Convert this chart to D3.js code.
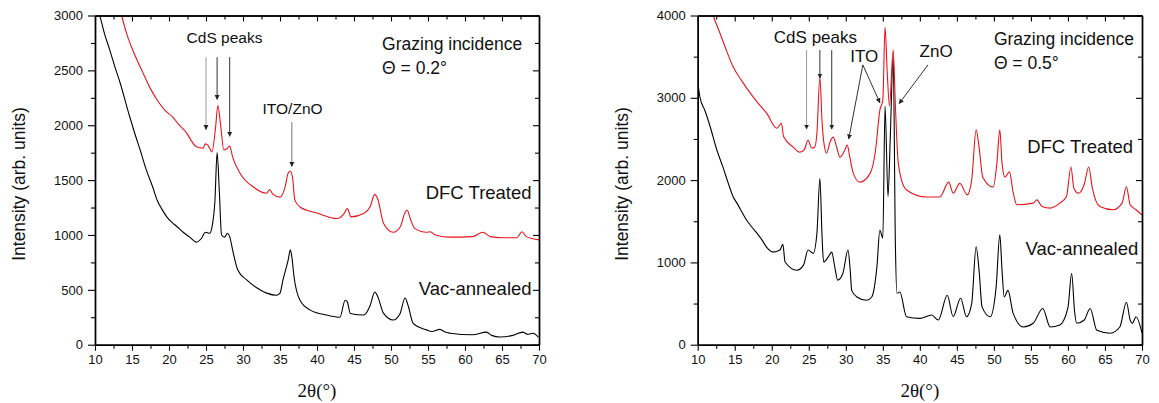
<!DOCTYPE html>
<html>
<head>
<meta charset="utf-8">
<script src="https://cdn.jsdelivr.net/npm/d3@7"></script>
<style>
  body { margin: 0; background: #fff; }
  text { fill: #111; }
</style>
</head>
<body>
<svg id="chart" width="1159" height="403"></svg>
<script>
// 2-theta ticks shared by both panels
var thetaTicks = [10, 15, 20, 25, 30, 35, 40, 45, 50, 55, 60, 65, 70];

// theta = 0.2 deg panel
var lowTicks = [0, 500, 1000, 1500, 2000, 2500, 3000];
var lowDfc = [[12.6,3300],[13.6,3000],[14.3,2830],[15.1,2685],[16.5,2475],[17.4,2345],[18.4,2230],[19.4,2140],[20.5,2075],[21.4,2000],[22.4,1928],[23.0,1860],[23.7,1803],[24.6,1790],[24.9,1830],[25.3,1815],[25.8,1757],[26.3,1985],[26.6,2180],[27.0,1985],[27.4,1775],[27.9,1790],[28.2,1810],[28.6,1710],[29.6,1563],[31.4,1437],[33.2,1380],[33.6,1415],[34.0,1375],[35.0,1345],[35.7,1440],[36.1,1563],[36.4,1580],[36.7,1520],[37.0,1320],[37.7,1255],[40.0,1200],[42.7,1150],[43.6,1190],[44.1,1240],[44.6,1165],[46.3,1195],[47.2,1260],[47.8,1370],[48.2,1330],[49.0,1105],[50.3,1025],[51.3,1080],[51.8,1190],[52.2,1225],[52.6,1150],[53.2,1060],[54.8,1025],[55.3,1030],[56.0,1000],[58.0,980],[61.0,985],[62.4,1025],[63.4,985],[65.0,975],[67.0,975],[67.7,1030],[68.3,985],[70,955]];
var lowVac = [[10.4,3050],[10.7,2985],[11.3,2830],[12.0,2685],[12.7,2530],[13.4,2385],[14.7,2075],[15.4,1920],[16.1,1775],[16.9,1600],[17.8,1437],[18.4,1317],[19.0,1240],[19.7,1165],[20.4,1115],[21.1,1075],[22.0,1020],[22.8,980],[23.7,935],[24.4,970],[24.9,1025],[25.5,1015],[25.9,1105],[26.2,1300],[26.5,1750],[26.8,1400],[27.1,1000],[27.5,980],[27.9,1015],[28.2,985],[28.6,862],[29.3,680],[30.5,590],[32.3,500],[33.2,470],[34.5,450],[35.0,470],[35.4,590],[36.1,770],[36.4,865],[36.6,800],[36.9,617],[37.7,405],[39.1,315],[41.3,270],[43.1,250],[43.8,405],[44.1,390],[44.5,285],[46.3,270],[47.2,360],[47.8,480],[48.2,440],[49.0,285],[50.3,225],[51.2,280],[51.9,425],[52.3,360],[53.0,195],[54.8,135],[55.5,120],[56.6,140],[57.3,115],[58.0,105],[61.0,90],[62.9,115],[63.6,85],[64.7,70],[66.5,85],[67.8,115],[68.5,95],[69.2,105],[69.9,70]];

// theta = 0.5 deg panel
var highTicks = [0, 1000, 2000, 3000, 4000];
var highDfc = [[11.5,4200],[12.1,4000],[13.0,3787],[13.9,3570],[14.8,3374],[16.0,3200],[17.1,3057],[18.2,2930],[19.3,2813],[20.7,2630],[21.3,2690],[21.6,2530],[22.9,2400],[23.8,2340],[24.4,2370],[24.9,2485],[25.4,2390],[25.8,2400],[26.1,2570],[26.5,3250],[26.8,2700],[27.0,2485],[27.4,2327],[27.9,2470],[28.3,2522],[28.8,2390],[29.2,2279],[29.8,2350],[30.2,2425],[30.5,2300],[31.0,2085],[31.9,1975],[33.3,2085],[34.0,2350],[34.6,2850],[35.0,2970],[35.3,3860],[35.6,3300],[35.9,2900],[36.4,3580],[36.7,2900],[37.0,2300],[37.3,2085],[38.2,1880],[40.9,1795],[42.7,1795],[43.9,1975],[44.5,1840],[45.4,1960],[46.4,1820],[47.0,2000],[47.6,2610],[48.0,2400],[48.5,2035],[49.9,1915],[50.4,2200],[50.8,2610],[51.1,2200],[51.5,2035],[52.1,2100],[52.6,1850],[53.1,1700],[55.3,1720],[55.8,1760],[56.5,1680],[57.6,1660],[58.9,1720],[59.8,1800],[60.4,2160],[60.8,1900],[61.4,1840],[62.2,1950],[62.8,2160],[63.3,1900],[64.3,1680],[66.1,1640],[67.3,1720],[67.9,1920],[68.4,1700],[69.2,1640],[70,1575]];
var highVac = [[10,3190],[10.3,3010],[11.0,2840],[11.7,2645],[12.5,2390],[13.4,2160],[14.1,1970],[14.8,1795],[15.3,1720],[16.6,1515],[17.3,1430],[18.0,1355],[18.7,1270],[19.3,1185],[20.2,1125],[21.1,1150],[21.5,1220],[21.8,1005],[23.4,905],[24.3,970],[24.9,1150],[25.6,1110],[26.1,1355],[26.5,2020],[26.8,1300],[27.0,1005],[27.6,1060],[28.1,1125],[28.5,950],[28.9,785],[29.6,865],[30.3,1150],[30.6,900],[30.8,660],[31.5,580],[32.8,540],[33.5,580],[34.2,945],[34.6,1390],[35.0,1295],[35.3,2900],[35.7,1800],[36.0,2500],[36.4,3500],[36.7,1200],[36.9,625],[37.3,640],[38.2,340],[40.0,320],[41.6,360],[42.5,300],[43.7,600],[44.5,340],[45.5,565],[46.3,340],[47.0,500],[47.6,1190],[48.0,900],[48.4,460],[49.5,340],[50.3,700],[50.8,1335],[51.1,900],[51.4,580],[51.9,660],[52.6,380],[54.0,215],[55.3,260],[56.6,440],[57.6,215],[58.9,240],[60.0,450],[60.5,865],[60.9,400],[61.2,260],[62.2,300],[63.0,440],[63.9,175],[65.7,140],[67.0,215],[67.9,515],[68.4,300],[68.7,260],[69.2,340],[70,140]];

var sans = "Arial, 'Liberation Sans', sans-serif";
var svg = d3.select("#chart");
var defs = svg.append("defs");

defs.append("marker")
	.attr("id", "head")
	.attr("viewBox", "0 0 10 10")
	.attr("refX", 9).attr("refY", 5)
	.attr("markerWidth", 5).attr("markerHeight", 6)
	.attr("orient", "auto-start-reverse")
	.append("path")
	.attr("d", "M0,0 L10,5 L0,10 z")
	.attr("fill", "#222");

function drawPanel(p){
	var g = svg.append("g");
	var x = d3.scaleLinear().domain([10, 70]).range([p.left, p.right]);
	var y = d3.scaleLinear().domain([0, p.yMax]).range([p.bottom, p.top]);

	var clipId = "clip" + p.id;
	defs.append("clipPath").attr("id", clipId)
		.append("rect")
		.attr("x", p.left).attr("y", p.top)
		.attr("width", p.right - p.left).attr("height", p.bottom - p.top);

	var line = d3.line()
		.curve(d3.curveMonotoneX)
		.x(function(d){ return x(d[0]); })
		.y(function(d){ return y(d[1]); });

	var curves = g.append("g").attr("clip-path", "url(#" + clipId + ")");
	curves.append("path").datum(p.vac)
		.attr("d", line).attr("fill", "none")
		.attr("stroke", "#000").attr("stroke-width", 1.1);
	curves.append("path").datum(p.dfc)
		.attr("d", line).attr("fill", "none")
		.attr("stroke", "#e8141c").attr("stroke-width", 1.1);

	var minorX = d3.range(12.5, 70, 5);
	var minorY = d3.range(p.yStep / 2, p.yMax, p.yStep);
	var fmt = d3.format("d");

	// bottom
	g.append("g").attr("transform", "translate(0," + p.bottom + ")")
		.call(d3.axisBottom(x).tickValues(minorX).tickSize(4).tickSizeOuter(0).tickFormat(""));
	g.append("g").attr("class", "lab").attr("transform", "translate(0," + p.bottom + ")")
		.call(d3.axisBottom(x).tickValues(thetaTicks).tickSize(6).tickSizeOuter(0).tickPadding(4).tickFormat(fmt));
	// top (ticks inward)
	g.append("g").attr("transform", "translate(0," + p.top + ")")
		.call(d3.axisTop(x).tickValues(minorX).tickSize(-4).tickSizeOuter(0).tickFormat(""));
	g.append("g").attr("transform", "translate(0," + p.top + ")")
		.call(d3.axisTop(x).tickValues(thetaTicks).tickSize(-6).tickSizeOuter(0).tickFormat(""));
	// left
	g.append("g").attr("transform", "translate(" + p.left + ",0)")
		.call(d3.axisLeft(y).tickValues(minorY).tickSize(4).tickSizeOuter(0).tickFormat(""));
	g.append("g").attr("class", "lab").attr("transform", "translate(" + p.left + ",0)")
		.call(d3.axisLeft(y).tickValues(p.ticks).tickSize(7).tickSizeOuter(0).tickPadding(5).tickFormat(fmt));
	// right (ticks inward)
	g.append("g").attr("transform", "translate(" + p.right + ",0)")
		.call(d3.axisRight(y).tickValues(minorY).tickSize(-4).tickSizeOuter(0).tickFormat(""));
	g.append("g").attr("transform", "translate(" + p.right + ",0)")
		.call(d3.axisRight(y).tickValues(p.ticks).tickSize(-6).tickSizeOuter(0).tickFormat(""));

	g.selectAll(".domain").attr("stroke", "#000").attr("stroke-width", 1.4);
	g.selectAll(".tick line").attr("stroke", "#000").attr("stroke-width", 1.1);
	g.selectAll(".lab text")
		.style("font-size", "13px").style("font-family", sans).style("fill", "#111");

	// axis titles
	g.append("text")
		.attr("transform", "translate(" + (p.left - 76) + ",184) rotate(-90)")
		.attr("text-anchor", "middle").attr("dy", "0.35em")
		.style("font-family", sans).style("font-size", "17.5px")
		.text("Intensity (arb. units)");
	g.append("text")
		.attr("x", (p.left + p.right) / 2).attr("y", 390)
		.attr("text-anchor", "middle").attr("dy", "0.35em")
		.style("font-family", "'Liberation Serif', 'Times New Roman', serif")
		.style("font-size", "19px")
		.text("2\u03B8(\u00B0)");

	// annotations
	p.notes.forEach(function(n){
		g.append("text")
			.attr("x", x(n.t)).attr("y", y(n.v))
			.attr("text-anchor", n.anchor || "start")
			.attr("dy", "0.35em")
			.style("font-family", sans)
			.style("font-size", (n.size || 17.5) + "px")
			.text(n.text);
	});
	p.arrows.forEach(function(a){
		g.append("line")
			.attr("x1", x(a[0])).attr("y1", y(a[1]))
			.attr("x2", x(a[2])).attr("y2", y(a[3]))
			.attr("stroke", a[4] || "#333").attr("stroke-width", 1)
			.attr("marker-end", "url(#head)");
	});
}

drawPanel({
	id: 1, left: 95, right: 539, top: 15.5, bottom: 344.7,
	yMax: 3000, yStep: 500, ticks: lowTicks,
	dfc: lowDfc, vac: lowVac,
	notes: [
		{ t: 27.5, v: 2795, text: "CdS peaks", anchor: "middle", size: 15.5 },
		{ t: 36.7, v: 2150, text: "ITO/ZnO", anchor: "middle", size: 15.5 },
		{ t: 48.8, v: 2740, text: "Grazing incidence" },
		{ t: 48.8, v: 2520, text: "\u0398 = 0.2\u00B0" },
		{ t: 69.0, v: 1385, text: "DFC Treated", anchor: "end", size: 18.5 },
		{ t: 69.0, v: 516, text: "Vac-annealed", anchor: "end", size: 18.5 }
	],
	arrows: [
		[25.0, 2620, 25.0, 1960, "#999"],
		[26.5, 2620, 26.5, 2235],
		[28.2, 2620, 28.2, 1900],
		[36.6, 2029, 36.6, 1625, "#777"]
	]
});

drawPanel({
	id: 2, left: 697.7, right: 1142, top: 15.5, bottom: 344.7,
	yMax: 4000, yStep: 1000, ticks: highTicks,
	dfc: highDfc, vac: highVac,
	notes: [
		{ t: 25.9, v: 3740, text: "CdS peaks", anchor: "middle", size: 17 },
		{ t: 32.5, v: 3508, text: "ITO", anchor: "middle", size: 17 },
		{ t: 42.2, v: 3568, text: "ZnO", anchor: "middle", size: 17 },
		{ t: 50.0, v: 3715, text: "Grazing incidence" },
		{ t: 50.0, v: 3422, text: "\u0398 = 0.5\u00B0" },
		{ t: 68.8, v: 2402, text: "DFC Treated", anchor: "end", size: 18.5 },
		{ t: 69.5, v: 1163, text: "Vac-annealed", anchor: "end", size: 18.5 }
	],
	arrows: [
		[24.7, 3580, 24.7, 2620, "#999"],
		[26.5, 3580, 26.5, 3240],
		[28.1, 3580, 28.1, 2620],
		[32.3, 3400, 30.4, 2500],
		[32.3, 3400, 34.6, 2940],
		[41.1, 3400, 37.2, 2930]
	]
});
</script>
</body>
</html>
